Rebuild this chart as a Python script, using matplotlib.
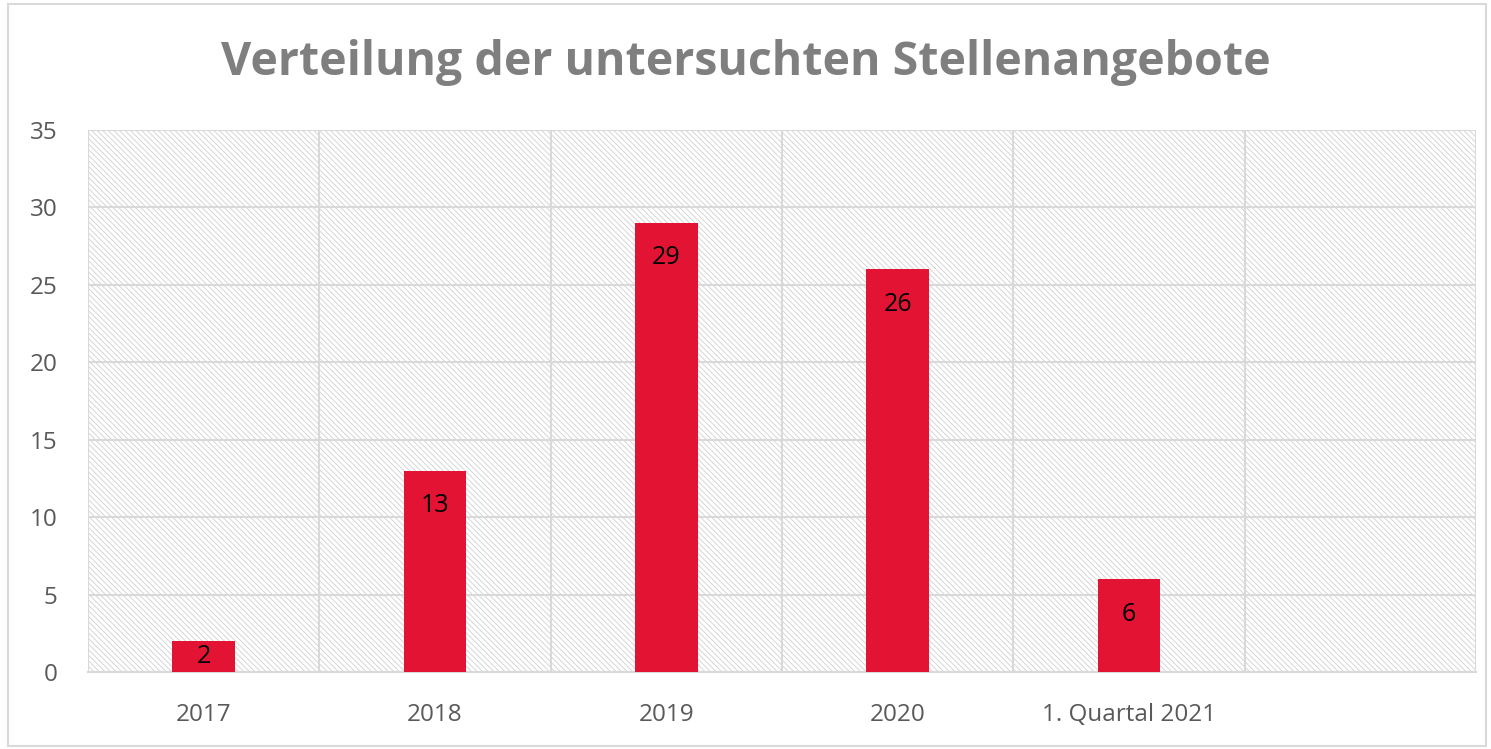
import matplotlib.pyplot as plt
from matplotlib.patches import Rectangle

# Daten
kategorien = ['2017', '2018', '2019', '2020', '1. Quartal 2021', '']
anzahl = [2, 13, 29, 26, 6, None]

plt.rcParams['font.family'] = ['Open Sans', 'DejaVu Sans']
plt.rcParams['hatch.linewidth'] = 0.6
plt.rcParams['hatch.color'] = '#d0d0d0'

fig = plt.figure(figsize=(14.91, 7.49), dpi=100)
ax_h = (672 - 130) / 749
ax = fig.add_axes([88 / 1491, 1 - 672 / 749, (1476 - 88) / 1491, ax_h])

# schraffierter Hintergrund
ax.add_patch(Rectangle((0, 0), 1, 1, transform=ax.transAxes, facecolor='white',
                       edgecolor='#d0d0d0', hatch='\\\\\\\\\\\\', lw=0, zorder=0))

x = list(range(len(kategorien)))
werte = [w if w is not None else 0 for w in anzahl]
bars = ax.bar(x, werte, width=0.27, color='#e31433', zorder=3)

# Beschriftung innen oben, bei kleinen Balken mittig
px_pro_einheit = 542 / 35
for xi, w in zip(x, anzahl):
    if w is None:
        continue
    off_px = min(35, w * px_pro_einheit / 2)
    ax.annotate(str(w), (xi, w), xytext=(0, -off_px * 0.72), textcoords='offset points',
                ha='center', va='center', fontsize=18, color='black', zorder=4)

ax.set_xlim(-0.5, len(kategorien) - 0.5)
ax.set_ylim(0, 35)
ax.set_yticks(range(0, 36, 5))
ax.set_xticks(x)
ax.set_xticklabels(kategorien)
ax.set_xticks([i + 0.5 for i in range(-1, len(kategorien))], minor=True)

ax.grid(axis='y', which='major', color='#d9d9d9', lw=1.5, zorder=1)
ax.grid(axis='x', which='minor', color='#d9d9d9', lw=1.5, zorder=1)
ax.grid(axis='x', which='major', visible=False)
ax.tick_params(which='both', length=0, labelsize=17.5, labelcolor='#595959')
ax.tick_params(axis='x', pad=22)
ax.tick_params(axis='y', pad=22)
for s in ax.spines.values():
    s.set_visible(False)
ax.spines['bottom'].set_visible(True)
ax.spines['bottom'].set_color('#d9d9d9')
ax.spines['bottom'].set_linewidth(1.5)
ax.set_axisbelow(True)

fig.text(0.5, 1 - 62 / 749, 'Verteilung der untersuchten Stellenangebote',
         ha='center', va='center', fontsize=33.5, fontweight='bold', color='#7f7f7f')

# Rahmen
fig.add_artist(Rectangle((8 / 1491, 3 / 749), 1478 / 1491, 742 / 749,
                         transform=fig.transFigure, fill=False,
                         edgecolor='#d9d9d9', lw=1.5))

plt.savefig('out.png', dpi=100)
